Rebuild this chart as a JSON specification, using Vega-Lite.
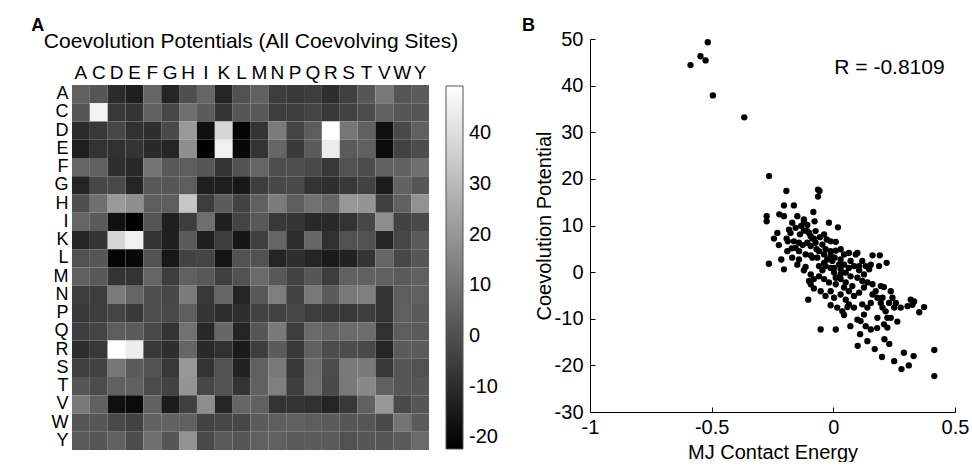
{
 "$schema": "https://vega.github.io/schema/vega-lite/v6.json",
 "padding": {"left": 31, "top": 17, "right": 5, "bottom": 0},
 "spacing": 24,
 "resolve": {"legend": {"color": "independent"}, "scale": {"x": "independent", "y": "independent"}},
 "config": {
  "font": "Liberation Sans",
  "locale": {"number": {"decimal": ".", "thousands": ",", "grouping": [3], "currency": ["$", ""], "minus": "-"}},
  "axis": {"labelColor": "#000000", "titleColor": "#000000", "domainColor": "#000000", "tickColor": "#000000", "grid": false},
  "title": {"color": "#000000"}
 },
 "datasets": {
  "matrix": [
   {"row":"A","A":4.6,"C":1.8,"D":-10.2,"E":-13.6,"F":6.0,"G":-12.2,"H":-0.2,"I":6.0,"K":-12.2,"L":0.4,"M":4.6,"N":-5.2,"P":-6.6,"Q":-5.2,"R":-9.4,"S":-4.6,"T":1.8,"V":11.6,"W":1.8,"Y":3.2},
   {"row":"C","A":1.8,"C":46.0,"D":-6.6,"E":-8.0,"F":4.6,"G":-2.4,"H":8.8,"I":3.2,"K":-7.4,"L":1.8,"M":2.4,"N":-5.2,"P":-5.2,"Q":-3.2,"R":-6.6,"S":-3.8,"T":-1.0,"V":4.6,"W":1.8,"Y":1.8},
   {"row":"D","A":-10.2,"C":-6.6,"D":-2.4,"E":-8.8,"F":-9.4,"G":-1.8,"H":20.6,"I":-17.8,"K":37.8,"L":-21.0,"M":-8.0,"N":12.2,"P":-3.2,"Q":3.8,"R":49.3,"S":10.8,"T":4.6,"V":-17.8,"W":-1.8,"Y":4.6},
   {"row":"E","A":-13.6,"C":-8.0,"D":-8.8,"E":-8.0,"F":-10.8,"G":-12.2,"H":17.8,"I":-22.0,"K":45.0,"L":-20.0,"M":-8.0,"N":6.0,"P":-6.0,"Q":3.2,"R":44.3,"S":3.2,"T":4.6,"V":-19.2,"W":-3.8,"Y":-1.0},
   {"row":"F","A":6.0,"C":4.6,"D":-9.4,"E":-10.8,"F":10.2,"G":2.4,"H":3.8,"I":1.8,"K":-8.0,"L":1.0,"M":6.0,"N":-0.4,"P":-0.4,"Q":-1.8,"R":-6.6,"S":0.4,"T":-1.0,"V":5.2,"W":5.2,"Y":8.8},
   {"row":"G","A":-12.2,"C":-2.4,"D":-1.8,"E":-12.2,"F":2.4,"G":1.8,"H":3.8,"I":-13.6,"K":-13.6,"L":-15.8,"M":-5.2,"N":-2.4,"P":-1.8,"Q":-8.0,"R":-9.4,"S":-6.6,"T":-3.8,"V":-14.4,"W":5.2,"Y":1.8},
   {"row":"H","A":-0.2,"C":8.8,"D":20.6,"E":17.8,"F":3.8,"G":3.8,"H":33.2,"I":-5.2,"K":3.2,"L":-3.8,"M":4.6,"N":12.2,"P":3.8,"Q":9.4,"R":6.0,"S":20.0,"T":19.2,"V":-4.6,"W":4.6,"Y":18.6},
   {"row":"I","A":6.0,"C":3.2,"D":-17.8,"E":-22.0,"F":1.8,"G":-13.6,"H":-5.2,"I":8.8,"K":-13.6,"L":-3.2,"M":2.4,"N":-6.6,"P":-7.4,"Q":-10.8,"R":-10.8,"S":-8.0,"T":-2.4,"V":17.2,"W":-3.8,"Y":-1.8},
   {"row":"K","A":-12.2,"C":-7.4,"D":37.8,"E":45.0,"F":-8.0,"G":-13.6,"H":3.2,"I":-13.6,"K":-5.2,"L":-16.4,"M":-4.6,"N":6.0,"P":-9.4,"Q":6.6,"R":-8.8,"S":0.4,"T":0.4,"V":-12.2,"W":-2.4,"Y":3.2},
   {"row":"L","A":0.4,"C":1.8,"D":-21.0,"E":-20.0,"F":1.0,"G":-15.8,"H":-3.8,"I":-3.2,"K":-16.4,"L":0.4,"M":0.4,"N":-12.2,"P":-9.4,"Q":-12.2,"R":-15.0,"S":-12.8,"T":-8.0,"V":6.0,"W":-2.4,"Y":1.8},
   {"row":"M","A":4.6,"C":2.4,"D":-8.0,"E":-8.0,"F":6.0,"G":-5.2,"H":4.6,"I":2.4,"K":-4.6,"L":0.4,"M":7.4,"N":2.4,"P":-3.8,"Q":1.8,"R":-5.2,"S":4.6,"T":4.6,"V":4.6,"W":3.2,"Y":4.6},
   {"row":"N","A":-5.2,"C":-5.2,"D":12.2,"E":6.0,"F":-0.4,"G":-2.4,"H":12.2,"I":-6.6,"K":6.0,"L":-12.2,"M":2.4,"N":13.0,"P":-3.8,"Q":11.6,"R":3.2,"S":11.6,"T":13.0,"V":-8.0,"W":3.8,"Y":4.6},
   {"row":"P","A":-6.6,"C":-5.2,"D":-3.2,"E":-6.0,"F":-0.4,"G":-1.8,"H":3.8,"I":-7.4,"K":-9.4,"L":-9.4,"M":-3.8,"N":-3.8,"P":-2.4,"Q":-5.2,"R":-6.6,"S":-6.6,"T":-5.2,"V":-8.0,"W":4.6,"Y":3.2},
   {"row":"Q","A":-5.2,"C":-3.2,"D":3.8,"E":3.2,"F":-1.8,"G":-8.0,"H":9.4,"I":-10.8,"K":6.6,"L":-12.2,"M":1.8,"N":11.6,"P":-5.2,"Q":7.4,"R":4.6,"S":7.4,"T":8.0,"V":-8.8,"W":3.8,"Y":3.2},
   {"row":"R","A":-9.4,"C":-6.6,"D":49.3,"E":44.3,"F":-6.6,"G":-9.4,"H":6.0,"I":-10.8,"K":-8.8,"L":-15.0,"M":-5.2,"N":3.2,"P":-6.6,"Q":4.6,"R":-1.0,"S":-1.0,"T":-1.8,"V":-12.2,"W":3.2,"Y":3.2},
   {"row":"S","A":-4.6,"C":-3.8,"D":10.8,"E":3.2,"F":0.4,"G":-6.6,"H":20.0,"I":-8.0,"K":0.4,"L":-12.8,"M":4.6,"N":11.6,"P":-6.6,"Q":7.4,"R":-1.0,"S":11.6,"T":11.6,"V":-6.6,"W":1.8,"Y":0.4},
   {"row":"T","A":1.8,"C":-1.0,"D":4.6,"E":4.6,"F":-1.0,"G":-3.8,"H":19.2,"I":-2.4,"K":0.4,"L":-8.0,"M":4.6,"N":13.0,"P":-5.2,"Q":8.0,"R":-1.8,"S":11.6,"T":15.8,"V":4.6,"W":1.8,"Y":1.8},
   {"row":"V","A":11.6,"C":4.6,"D":-17.8,"E":-19.2,"F":5.2,"G":-14.4,"H":-4.6,"I":17.2,"K":-12.2,"L":6.0,"M":4.6,"N":-8.0,"P":-8.0,"Q":-8.8,"R":-12.2,"S":-6.6,"T":4.6,"V":20.0,"W":-1.8,"Y":1.8},
   {"row":"W","A":1.8,"C":1.8,"D":-1.8,"E":-3.8,"F":5.2,"G":5.2,"H":4.6,"I":-3.8,"K":-2.4,"L":-2.4,"M":3.2,"N":3.8,"P":4.6,"Q":3.8,"R":3.2,"S":1.8,"T":1.8,"V":-1.8,"W":10.2,"Y":3.2},
   {"row":"Y","A":3.2,"C":1.8,"D":4.6,"E":-1.0,"F":8.8,"G":1.8,"H":18.6,"I":-1.8,"K":3.2,"L":1.8,"M":4.6,"N":4.6,"P":3.2,"Q":3.2,"R":3.2,"S":0.4,"T":1.8,"V":1.8,"W":3.2,"Y":7.4}
  ],
  "scatter": [
   {"e":-0.587,"p":44.4},{"e":-0.546,"p":46.3},{"e":-0.525,"p":45.4},{"e":-0.516,"p":49.3},{"e":-0.495,"p":37.9},{"e":-0.366,"p":33.2},
   {"e":-0.264,"p":20.6},{"e":-0.193,"p":17.4},{"e":-0.063,"p":17.7},{"e":-0.057,"p":17.4},{"e":-0.063,"p":16.2},
   {"e":-0.203,"p":14.3},{"e":-0.162,"p":14.3},{"e":-0.274,"p":12.0},{"e":-0.274,"p":10.9},{"e":-0.222,"p":12.4},{"e":-0.203,"p":12.0},
   {"e":-0.082,"p":12.9},{"e":-0.121,"p":10.9},{"e":-0.077,"p":10.9},{"e":-0.018,"p":10.6},{"e":0.019,"p":9.6},{"e":-0.182,"p":9.1},
   {"e":-0.176,"p":8.4},{"e":-0.244,"p":7.2},{"e":-0.192,"p":7.2},{"e":-0.187,"p":6.6},{"e":-0.224,"p":5.8},{"e":-0.171,"p":5.1},
   {"e":-0.214,"p":2.7},{"e":-0.265,"p":1.8},{"e":-0.203,"p":0.6},{"e":-0.137,"p":8.1},{"e":-0.121,"p":8.9},{"e":-0.107,"p":8.8},
   {"e":-0.093,"p":7.7},{"e":-0.141,"p":6.3},{"e":-0.126,"p":5.8},{"e":-0.107,"p":6.3},{"e":-0.093,"p":5.6},{"e":-0.080,"p":7.2},
   {"e":-0.073,"p":6.3},{"e":-0.038,"p":8.1},{"e":-0.027,"p":7.0},{"e":-0.011,"p":6.6},{"e":0.010,"p":6.5},{"e":-0.141,"p":4.5},
   {"e":-0.141,"p":2.7},{"e":-0.114,"p":3.8},{"e":-0.093,"p":3.6},{"e":-0.069,"p":4.9},{"e":-0.032,"p":4.9},{"e":-0.011,"p":4.5},
   {"e":0.010,"p":4.6},{"e":0.030,"p":4.9},{"e":-0.038,"p":3.8},{"e":-0.025,"p":2.7},{"e":-0.004,"p":2.4},{"e":-0.038,"p":2.0},
   {"e":0.044,"p":3.8},{"e":0.064,"p":4.1},{"e":0.092,"p":3.8},{"e":0.099,"p":4.1},{"e":0.030,"p":2.7},{"e":0.044,"p":1.6},
   {"e":0.030,"p":0.6},{"e":-0.114,"p":1.1},{"e":-0.121,"p":0.4},{"e":-0.059,"p":1.3},{"e":-0.045,"p":0.4},{"e":-0.011,"p":0.9},
   {"e":0.003,"p":-0.1},{"e":0.064,"p":0.9},{"e":0.085,"p":1.3},{"e":0.106,"p":0.4},{"e":0.126,"p":-0.5},{"e":0.147,"p":0.6},
   {"e":0.154,"p":1.6},{"e":0.161,"p":3.6},{"e":0.191,"p":3.6},{"e":0.188,"p":1.3},{"e":0.219,"p":2.0},{"e":-0.100,"p":-1.9},
   {"e":-0.093,"p":-2.6},{"e":-0.080,"p":-3.5},{"e":-0.052,"p":-4.1},{"e":-0.032,"p":-5.1},{"e":-0.103,"p":-5.9},{"e":0.010,"p":-2.6},
   {"e":0.030,"p":-1.5},{"e":0.051,"p":-2.2},{"e":0.044,"p":-3.3},{"e":0.064,"p":-4.1},{"e":0.078,"p":-3.0},{"e":0.099,"p":-1.2},
   {"e":0.085,"p":-5.1},{"e":0.119,"p":-6.9},{"e":-0.011,"p":-7.1},{"e":0.016,"p":-7.6},{"e":0.037,"p":-8.4},{"e":0.058,"p":-7.5},
   {"e":0.044,"p":-9.2},{"e":0.161,"p":-2.6},{"e":0.161,"p":-4.8},{"e":0.174,"p":-4.1},{"e":0.195,"p":-3.0},{"e":0.208,"p":-3.2},
   {"e":0.236,"p":-4.1},{"e":0.243,"p":-5.5},{"e":0.257,"p":-6.6},{"e":0.277,"p":-7.6},{"e":0.305,"p":-7.3},{"e":0.318,"p":-5.9},
   {"e":0.332,"p":-6.3},{"e":0.325,"p":-7.0},{"e":0.353,"p":-8.6},{"e":0.373,"p":-7.5},{"e":0.154,"p":-6.6},{"e":0.140,"p":-7.6},
   {"e":0.195,"p":-6.6},{"e":0.202,"p":-7.6},{"e":0.215,"p":-8.4},{"e":0.222,"p":-9.8},{"e":0.181,"p":-9.8},{"e":0.126,"p":-9.1},
   {"e":0.112,"p":-10.5},{"e":0.099,"p":-10.2},{"e":0.133,"p":-11.6},{"e":0.263,"p":-10.6},{"e":0.208,"p":-11.2},{"e":0.222,"p":-11.9},
   {"e":-0.052,"p":-12.3},{"e":0.010,"p":-12.3},{"e":0.154,"p":-12.3},
   {"e":-0.155,"p":9.5},{"e":-0.132,"p":9.9},{"e":-0.107,"p":10.1},{"e":-0.100,"p":8.4},{"e":-0.086,"p":7.2},{"e":-0.073,"p":8.8},
   {"e":-0.055,"p":7.5},{"e":-0.045,"p":5.9},{"e":-0.059,"p":4.5},{"e":-0.086,"p":3.1},{"e":-0.066,"p":3.1},{"e":-0.032,"p":1.3},
   {"e":-0.011,"p":3.6},{"e":0.005,"p":3.1},{"e":0.023,"p":1.6},{"e":0.003,"p":0.9},{"e":0.010,"p":-1.2},{"e":0.030,"p":-0.5},
   {"e":0.051,"p":-0.1},{"e":0.071,"p":-0.9},{"e":0.071,"p":2.4},{"e":0.106,"p":1.3},{"e":0.119,"p":2.4},{"e":0.133,"p":1.3},
   {"e":-0.093,"p":-0.5},{"e":-0.080,"p":-1.5},{"e":-0.059,"p":-0.9},{"e":-0.038,"p":-1.5},{"e":-0.018,"p":-2.2},{"e":-0.011,"p":-4.1},
   {"e":0.003,"p":-5.5},{"e":0.030,"p":-4.8},{"e":0.051,"p":-5.9},{"e":0.064,"p":-6.9},{"e":0.085,"p":-7.6},{"e":0.106,"p":-4.4},
   {"e":0.126,"p":-3.3},{"e":0.140,"p":-2.2},{"e":0.119,"p":-1.9},{"e":0.181,"p":-5.5},{"e":0.202,"p":-5.5},{"e":0.229,"p":-6.6},
   {"e":0.250,"p":-7.6},{"e":0.236,"p":-9.8},{"e":-0.169,"p":10.6},{"e":-0.148,"p":12.0},{"e":-0.121,"p":11.3},{"e":-0.230,"p":8.4},
   {"e":-0.162,"p":6.6},{"e":-0.155,"p":5.2},{"e":-0.189,"p":4.5},{"e":-0.169,"p":3.1},{"e":-0.148,"p":1.6},
   {"e":0.07,"p":-11.6},{"e":0.11,"p":-13.3},{"e":0.18,"p":-12.0},{"e":0.21,"p":-14.4},{"e":0.23,"p":-15.4},{"e":0.17,"p":-16.5},
   {"e":0.20,"p":-18.2},{"e":0.25,"p":-19.1},{"e":0.28,"p":-20.8},{"e":0.31,"p":-20.0},{"e":0.29,"p":-17.3},{"e":0.33,"p":-18.0},
   {"e":0.415,"p":-16.7},{"e":0.415,"p":-22.3},{"e":0.14,"p":-14.8},{"e":0.10,"p":-15.8}
  ]
 },
 "hconcat": [
  {
   "title": {"text": "A", "anchor": "start", "fontSize": 18, "fontWeight": "bold", "dx": -12, "offset": -5, "frame": "bounds"},
   "width": 357,
   "height": 411,
   "data": {"name": "matrix"},
   "transform": [{"fold": ["A","C","D","E","F","G","H","I","K","L","M","N","P","Q","R","S","T","V","W","Y"], "as": ["col", "v"]}],
   "mark": {"type": "rect"},
   "encoding": {
    "x": {"field": "col", "type": "nominal", "sort": ["A","C","D","E","F","G","H","I","K","L","M","N","P","Q","R","S","T","V","W","Y"],
      "scale": {"paddingInner": 0, "paddingOuter": 0},
      "axis": {"orient": "top", "offset": -46, "labelAngle": 0, "ticks": false, "domain": false, "labelPadding": 3, "labelFontSize": 19,
        "title": "Coevolution Potentials (All Coevolving Sites)", "titleFontSize": 21, "titleFontWeight": "normal", "titlePadding": 12}},
    "y": {"field": "row", "type": "nominal",
      "scale": {"domain": [" ","A","C","D","E","F","G","H","I","K","L","M","N","P","Q","R","S","T","V","W","Y"], "paddingInner": 0, "paddingOuter": 0.76, "align": 1},
      "axis": {"ticks": false, "domain": false, "labelPadding": 4, "labelFontSize": 18, "title": null}},
    "color": {"field": "v", "type": "quantitative",
      "scale": {"domain": [-22.3, 49.3], "range": ["#000000", "#ffffff"], "interpolate": "rgb"},
      "legend": {"title": null, "orient": "none", "legendX": 374, "legendY": 47, "direction": "vertical", "gradientLength": 363, "gradientThickness": 17,
        "gradientStrokeColor": "#555555", "gradientStrokeWidth": 1, "values": [-20, -10, 0, 10, 20, 30, 40], "labelFontSize": 20,
        "labelColor": "#000000", "labelOffset": 6, "padding": 0}}
   },
   "view": {"stroke": null}
  },
  {
   "title": {"text": "B", "anchor": "start", "fontSize": 18, "fontWeight": "bold", "dx": -12, "offset": -6, "frame": "bounds"},
   "width": 365,
   "height": 373,
   "layer": [
    {
     "data": {"name": "scatter"},
     "mark": {"type": "circle", "size": 40, "color": "#000000", "opacity": 1},
     "encoding": {
      "x": {"field": "e", "type": "quantitative", "scale": {"domain": [-1, 0.5], "nice": false},
        "axis": {"values": [-1, -0.5, 0, 0.5], "format": "~g", "title": "MJ Contact Energy", "titleFontSize": 20, "titleFontWeight": "normal",
          "labelFontSize": 20, "tickSize": -5, "labelPadding": 10, "labelFlush": false, "titlePadding": 5}},
      "y": {"field": "p", "type": "quantitative", "scale": {"domain": [-30, 50], "nice": false},
        "axis": {"values": [-30, -20, -10, 0, 10, 20, 30, 40, 50], "title": "Coevolution Potential", "titleFontSize": 20, "titleFontWeight": "normal",
          "labelFontSize": 20, "tickSize": -5, "labelPadding": 12, "labelFlush": false, "titlePadding": 0}}
     }
    },
    {
     "data": {"values": [{"e": 0.004, "p": 43.8, "label": "R = -0.8109"}]},
     "mark": {"type": "text", "align": "left", "baseline": "middle", "fontSize": 21, "color": "#000000"},
     "encoding": {
      "x": {"field": "e", "type": "quantitative"},
      "y": {"field": "p", "type": "quantitative"},
      "text": {"field": "label"}
     }
    }
   ],
   "view": {"stroke": null}
  }
 ]
}
